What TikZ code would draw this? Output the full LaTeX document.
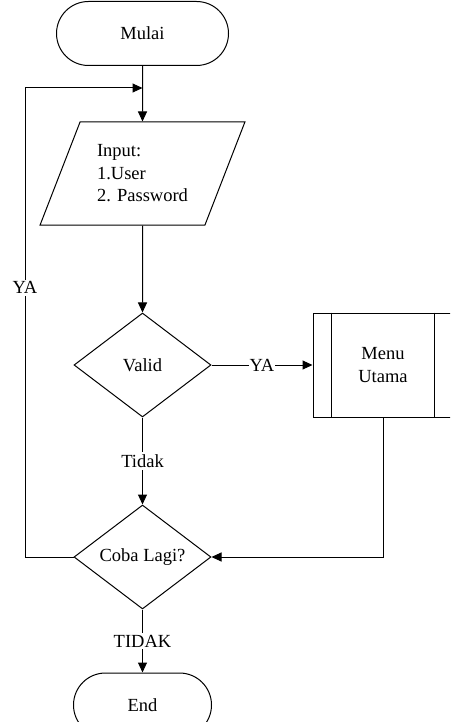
\documentclass[tikz,border=0pt]{standalone}
\usepackage{fontspec}
\setmainfont{Liberation Serif}
\usepackage{tikz}
\usetikzlibrary{shapes,arrows.meta,calc}

\begin{document}
\begin{tikzpicture}
  [
    x=1pt, y=-1pt,
    line width=1pt,
    every node/.style={font=\fontsize{18.5}{22.5}\selectfont},
    terminal/.style={draw, rounded rectangle, minimum height=64pt, inner sep=0pt},
    inout/.style={draw, trapezium, trapezium left angle=64, trapezium right angle=116,
      trapezium stretches=true, minimum width=205pt, minimum height=103pt, align=left},
    decision/.style={draw, diamond, aspect=1.32, minimum width=137pt, minimum height=104pt, inner sep=0pt},
    subproc/.style={draw, rectangle, minimum width=140pt, minimum height=104pt, align=center},
    flow/.style={-{Triangle[length=10pt,width=9pt]}},
    lbl/.style={fill=white, inner sep=2pt}
  ]
    \path[use as bounding box] (0,0) rectangle (450,722);
    \clip (0,0) rectangle (450,722);

    \node[terminal, minimum width=172pt] (mulai) at (142.5,33.5) {Mulai};
    \node[inout] (input) at (142.5,173.5) {Input:\\1.User\\2. Password};
    \node[decision] (valid) at (142.5,365) {Valid};
    \node[subproc] (menu) at (383,365) {Menu\\Utama};
    \node[decision] (coba) at (142.5,557) {Coba Lagi?};
    \node[terminal, minimum width=138pt] (selesai) at (142.5,705) {End};

    % garis tepi menu
    \draw ([xshift=19pt]menu.north west) -- ([xshift=19pt]menu.south west);
    \draw ([xshift=-19pt]menu.north east) -- ([xshift=-19pt]menu.south east);

    \coordinate (loopL) at (25,557);
    \coordinate (loopT) at (25,88);
    \coordinate (join) at (142.5,88);

    \draw[flow] (mulai) -- (input);
    \draw[flow] (input) -- (valid);
    \draw[flow] (valid) -- node[lbl, inner sep=1pt] {YA} (menu);
    \draw[flow] (valid) -- node[lbl] {Tidak} (coba);
    \draw[flow] (menu.south) |- (coba.east);
    \draw[flow] (coba.west) -- (loopL) -- node[lbl, pos=0.574] {YA} (loopT) -- (join);
    \draw[flow] (coba) -- node[lbl] {TIDAK} (selesai);
  \end{tikzpicture}
\end{document}
